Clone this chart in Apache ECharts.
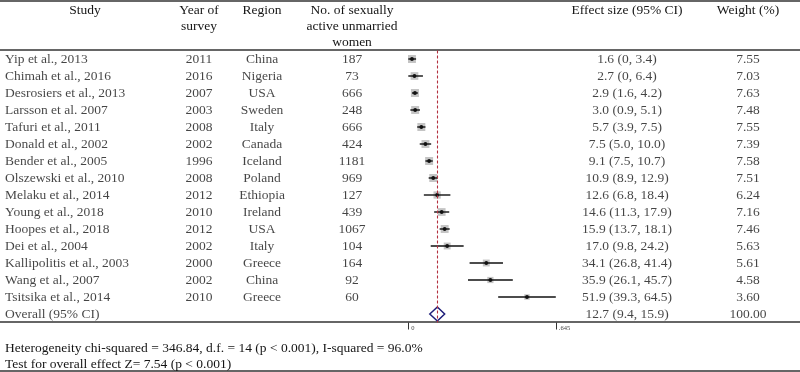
<!DOCTYPE html>
<html>
<head>
<meta charset="utf-8">
<script src="https://cdn.jsdelivr.net/npm/echarts@6/dist/echarts.min.js"></script>
<style>
  html, body { margin: 0; padding: 0; background: #fff; }
  #chart { width: 800px; height: 372px; }
</style>
</head>
<body>
<div id="chart"></div>
<script>
const studies = [
  'Yip et al., 2013', 'Chimah et al., 2016', 'Desrosiers et al., 2013', 'Larsson et al. 2007',
  'Tafuri et al., 2011', 'Donald et al., 2002', 'Bender et al., 2005', 'Olszewski et al., 2010',
  'Melaku et al., 2014', 'Young et al., 2018', 'Hoopes et al., 2018', 'Dei et al., 2004',
  'Kallipolitis et al., 2003', 'Wang et al., 2007', 'Tsitsika et al., 2014'
]
const years = [2011, 2016, 2007, 2003, 2008, 2002, 1996, 2008, 2012, 2010, 2012, 2002, 2000, 2002, 2010]
const regions = ['China', 'Nigeria', 'USA', 'Sweden', 'Italy', 'Canada', 'Iceland', 'Poland',
  'Ethiopia', 'Ireland', 'USA', 'Italy', 'Greece', 'China', 'Greece']
const counts = [187, 73, 666, 248, 666, 424, 1181, 969, 127, 439, 1067, 104, 164, 92, 60]
const est = [1.6, 2.7, 2.9, 3.0, 5.7, 7.5, 9.1, 10.9, 12.6, 14.6, 15.9, 17.0, 34.1, 35.9, 51.9]
const lower = [0, 0, 1.6, 0.9, 3.9, 5.0, 7.5, 8.9, 6.8, 11.3, 13.7, 9.8, 26.8, 26.1, 39.3]
const upper = [3.4, 6.4, 4.2, 5.1, 7.5, 10.0, 10.7, 12.9, 18.4, 17.9, 18.1, 24.2, 41.4, 45.7, 64.5]
const weights = [7.55, 7.03, 7.63, 7.48, 7.55, 7.39, 7.58, 7.51, 6.24, 7.16, 7.46, 5.63, 5.61, 4.58, 3.60]
const overallLabel = 'Overall (95% CI)'
const overall = { est: 12.7, lower: 9.4, upper: 15.9, weight: 100.00 }
const axisTicks = [0, 64.5]
const axisTickLabels = ['0', '.645']

const rows = studies.concat([overallLabel])
const fmt = v => v === 0 ? '0' : v.toFixed(1)
const ciText = est.map((e, i) => `${fmt(e)} (${fmt(lower[i])}, ${fmt(upper[i])})`)
  .concat([`${fmt(overall.est)} (${fmt(overall.lower)}, ${fmt(overall.upper)})`])
const weightText = weights.concat([overall.weight]).map(w => w.toFixed(2))

const FONT = 'Liberation Serif'
const TXT = '#151515'
const LINE = '#333'

// text column helper: one scatter series per column, label only
function textColumn(x, texts, align) {
  return {
    type: 'scatter',
    xAxisIndex: 0, yAxisIndex: 0,
    symbolSize: 0,
    silent: true,
    data: texts.map((t, i) => [x, i, t]).filter(d => d[2] !== '' && d[2] != null),
    label: {
      show: true,
      position: align === 'left' ? 'right' : 'inside',
      distance: 0,
      formatter: p => String(p.value[2]),
      fontFamily: FONT, fontSize: 13.5, color: TXT,
    },
  }
}

function headerText(x, y, text, align) {
  return {
    type: 'text', x, y,
    style: { text, fontFamily: FONT, fontSize: 13.5, fill: TXT, align: align || 'center', verticalAlign: 'middle' },
  }
}
function hline(y, w) {
  return { type: 'line', shape: { x1: 0, y1: y, x2: 800, y2: y }, style: { stroke: LINE, lineWidth: w || 1.5 } }
}

const chart = echarts.init(document.getElementById('chart'), null, { renderer: 'canvas' })

chart.setOption({
  animation: false,
  grid: [
    { left: 0, right: 0, top: 50.5, height: 272 },
    { left: 408.3, width: 147.5, top: 50.5, height: 272 },
  ],
  xAxis: [
    { type: 'value', gridIndex: 0, min: 0, max: 800, show: false },
    {
      type: 'value', gridIndex: 1, min: axisTicks[0], max: axisTicks[1], interval: axisTicks[1] - axisTicks[0],
      axisLine: { show: false },
      splitLine: { show: false },
      axisTick: { show: true, length: 7, lineStyle: { color: LINE, width: 1 } },
      axisLabel: {
        margin: 2, fontSize: 6.5, fontFamily: FONT, color: '#444', align: 'left', padding: [0, 0, 0, 3],
        formatter: v => axisTickLabels[axisTicks.indexOf(v)] ?? '',
      },
    },
  ],
  yAxis: [
    { type: 'category', gridIndex: 0, data: rows, inverse: true, show: false },
    { type: 'category', gridIndex: 1, data: rows, inverse: true, show: false },
  ],
  series: [
    textColumn(5, rows, 'left'),
    textColumn(199, years, 'center'),
    textColumn(262, regions, 'center'),
    textColumn(352, counts, 'center'),
    textColumn(627, ciText, 'center'),
    textColumn(748, weightText, 'center'),
    {
      // study boxes, CIs and point estimates
      type: 'custom',
      xAxisIndex: 1, yAxisIndex: 1,
      silent: true,
      data: est.map((e, i) => [e, i, lower[i], upper[i], weights[i]]),
      renderItem: (params, api) => {
        const c = api.coord([api.value(0), api.value(1)])
        const lo = api.coord([api.value(2), api.value(1)])
        const hi = api.coord([api.value(3), api.value(1)])
        const s = 2.9 * Math.sqrt(api.value(4))
        return {
          type: 'group',
          children: [
            { type: 'rect', shape: { x: c[0] - s / 2, y: c[1] - s / 2, width: s, height: s }, style: { fill: '#c4c4c4' } },
            { type: 'line', shape: { x1: lo[0], y1: c[1], x2: hi[0], y2: c[1] }, style: { stroke: '#111', lineWidth: 1.4 } },
            { type: 'circle', shape: { cx: c[0], cy: c[1], r: 1.9 }, style: { fill: '#111' } },
          ],
        }
      },
      markLine: {
        silent: true,
        symbol: 'none',
        label: { show: false },
        lineStyle: { color: '#b3303f', type: [3, 2], width: 1.1, opacity: 1 },
        emphasis: { disabled: true },
        data: [{ xAxis: overall.est }],
      },
    },
    {
      // overall diamond
      type: 'custom',
      xAxisIndex: 1, yAxisIndex: 1,
      silent: true,
      data: [[overall.est, rows.length - 1, overall.lower, overall.upper]],
      renderItem: (params, api) => {
        const c = api.coord([api.value(0), api.value(1)])
        const lo = api.coord([api.value(2), api.value(1)])
        const hi = api.coord([api.value(3), api.value(1)])
        const h = 7
        return {
          type: 'polygon',
          shape: { points: [[lo[0], c[1]], [c[0], c[1] - h], [hi[0], c[1]], [c[0], c[1] + h]] },
          style: { fill: 'none', stroke: '#1f1f7a', lineWidth: 1.5 },
        }
      },
    },
  ],
  graphic: [
    hline(1, 1.5),
    hline(50, 1.5),
    hline(322, 1.5),
    hline(371, 1.5),
    headerText(85, 10, 'Study'),
    headerText(199, 10, 'Year of'),
    headerText(199, 26, 'survey'),
    headerText(262, 10, 'Region'),
    headerText(352, 10, 'No. of sexually'),
    headerText(352, 26, 'active unmarried'),
    headerText(352, 42, 'women'),
    headerText(627, 10, 'Effect size (95% CI)'),
    headerText(748, 10, 'Weight (%)'),
    headerText(5, 348, 'Heterogeneity chi-squared = 346.84, d.f. = 14 (p < 0.001), I-squared = 96.0%', 'left'),
    headerText(5, 364, 'Test for overall effect Z= 7.54 (p < 0.001)', 'left'),
  ],
})
</script>
</body>
</html>
